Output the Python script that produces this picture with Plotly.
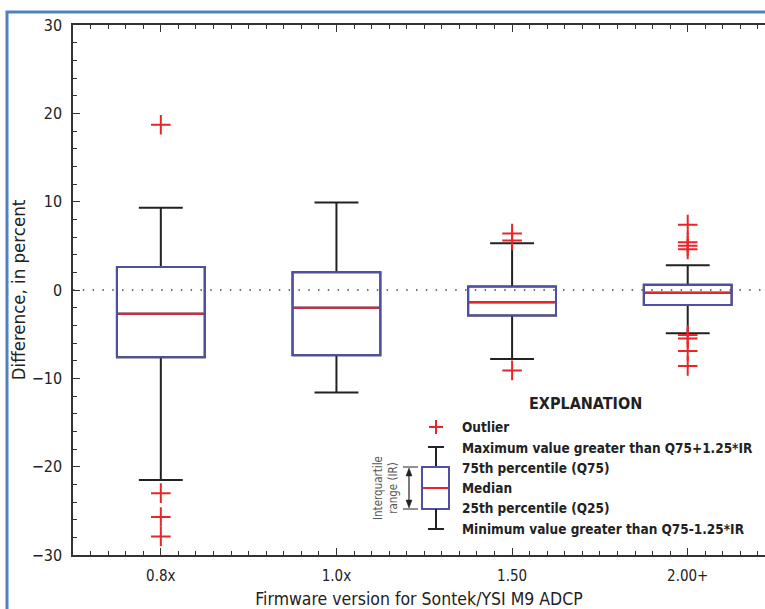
import plotly.graph_objects as go

# ---------------- data ----------------
categories = ["0.8x", "1.0x", "1.50", "2.00+"]
positions = [0, 1, 2, 3]
q1 = [-7.6, -7.4, -2.9, -1.7]
median = [-2.7, -2.0, -1.4, -0.3]
q3 = [2.6, 2.0, 0.4, 0.6]
lower_fence = [-21.5, -11.6, -7.8, -4.9]
upper_fence = [9.3, 9.9, 5.3, 2.8]

outliers_08x = [18.7, -23.0, -25.7, -27.9]
outliers_10x = []
outliers_150 = [6.4, 5.6, -9.1]
outliers_200 = [7.4, 5.4, 5.0, 4.6, -5.1, -5.5, -6.9, -8.6]
outlier_lists = [outliers_08x, outliers_10x, outliers_150, outliers_200]

y_ticks = [-30, -20, -10, 0, 10, 20, 30]

# ---------------- styles ----------------
FONT = "Liberation Sans Narrow, Arial Narrow, DejaVu Sans Condensed, sans-serif"
BLACK = "#222222"
BLUE = "#4f4fa3"
RED = "#e8262a"
BOX_W = 0.5

fig = go.Figure()

# whiskers (black)
fig.add_trace(go.Box(
    x=positions, q1=q1, median=median, q3=q3,
    lowerfence=lower_fence, upperfence=upper_fence,
    width=BOX_W, whiskerwidth=0.5, boxpoints=False,
    line=dict(color=BLACK, width=2), fillcolor="rgba(0,0,0,0)",
    showlegend=False, hoverinfo="skip"))
# box outline (blue)
fig.add_trace(go.Box(
    x=positions, q1=q1, median=median, q3=q3,
    lowerfence=q1, upperfence=q3,
    width=BOX_W, whiskerwidth=0, boxpoints=False,
    line=dict(color=BLUE, width=2), fillcolor="rgba(0,0,0,0)",
    showlegend=False, hoverinfo="skip"))
# medians (red)
mx, my = [], []
for p, m in zip(positions, median):
    mx += [p - BOX_W / 2 + 0.01, p + BOX_W / 2 - 0.01, None]
    my += [m, m, None]
fig.add_trace(go.Scatter(x=mx, y=my, mode="lines", line=dict(color=RED, width=2),
                         showlegend=False, hoverinfo="skip"))
# outliers
ox, oy = [], []
for p, lst in zip(positions, outlier_lists):
    ox += [p] * len(lst)
    oy += lst
fig.add_trace(go.Scatter(x=ox, y=oy, mode="markers",
                         marker=dict(symbol="cross-thin", size=14,
                                     line=dict(color=RED, width=2)),
                         showlegend=False))

# ---------------- layout ----------------
L, R, T, B = 73, 765, 25, 555
W, H = 765, 609


def px(x):
    return (x - L) / (R - L)


def py(y):
    return (B - y) / (B - T)


fig.add_hline(y=0, line=dict(color="#444444", width=1.5, dash="1.5px,8.3px"), layer="below")

shapes = []


def seg(x0, y0, x1, y1, color=BLACK, width=2):
    shapes.append(dict(type="line", xref="paper", yref="paper",
                       x0=px(x0), y0=py(y0), x1=px(x1), y1=py(y1),
                       line=dict(color=color, width=width)))


# legend glyph
seg(429, 427, 443, 427, RED)
seg(436, 420, 436, 434, RED)
seg(428, 447, 444, 447)
seg(436, 447, 436, 467)
shapes.append(dict(type="rect", xref="paper", yref="paper",
                   x0=px(422), y0=py(509), x1=px(449), y1=py(467),
                   line=dict(color=BLUE, width=2)))
seg(423, 488, 448, 488, RED)
seg(436, 509, 436, 529)
seg(428, 529, 444, 529)
# interquartile arrow
seg(403, 467, 418, 467, BLACK, 1)
seg(403, 509, 418, 509, BLACK, 1)
seg(409, 471, 409, 505, BLACK, 1.2)
for tip, base in [(468, 476), (508, 500)]:
    shapes.append(dict(type="path", xref="paper", yref="paper",
                       path=f"M {px(409)},{py(tip)} L {px(406)},{py(base)} L {px(412)},{py(base)} Z",
                       fillcolor=BLACK, line=dict(color=BLACK, width=0.5)))

# blue frame
shapes.append(dict(type="rect", xref="paper", yref="paper",
                   x0=px(7), y0=py(700), x1=px(900), y1=py(12),
                   line=dict(color="#4f81bd", width=3), layer="above"))

annotations = [
    dict(text="<b>EXPLANATION</b>", x=px(585), y=py(403), xref="paper", yref="paper",
         showarrow=False, xanchor="center", yanchor="middle",
         font=dict(family=FONT, size=16, color=BLACK)),
    dict(text="Interquartile<br>range (IR)", x=px(385), y=py(488), xref="paper", yref="paper",
         showarrow=False, textangle=-90, xanchor="center", yanchor="middle",
         font=dict(family=FONT, size=11.5, color="#555555")),
]
legend_rows = [
    ("Outlier", 427),
    ("Maximum value greater than Q75+1.25*IR", 448),
    ("75th percentile (Q75)", 468),
    ("Median", 488),
    ("25th percentile (Q25)", 508),
    ("Minimum value greater than Q75-1.25*IR", 529),
]
for txt, yy in legend_rows:
    annotations.append(dict(text=f"<b>{txt}</b>", x=px(460), y=py(yy), xref="paper", yref="paper",
                            showarrow=False, xanchor="left", yanchor="middle",
                            font=dict(family=FONT, size=13.5, color=BLACK)))

fig.update_layout(
    width=W, height=H,
    margin=dict(l=L, r=W - R, t=T, b=H - B, autoexpand=False),
    paper_bgcolor="white", plot_bgcolor="white",
    font=dict(family=FONT, size=15, color=BLACK),
    shapes=list(fig.layout.shapes) + shapes,
    annotations=annotations,
    boxmode="overlay",
    showlegend=False,
)
fig.update_xaxes(
    automargin=False,
    range=[-0.5, 3.44], tickvals=positions, ticktext=categories,
    showline=True, linecolor="#333333", linewidth=1.5, mirror="ticks",
    ticks="inside", ticklen=7, tickwidth=1.3, tickcolor="#333333",
    minor=dict(dtick=0.1, tick0=0, ticks="inside", ticklen=4, tickwidth=1, tickcolor="#333333"),
    showgrid=False, zeroline=False, ticklabelstandoff=6,
    tickfont=dict(family=FONT, size=15),
    title=dict(text="Firmware version for Sontek/YSI M9 ADCP", standoff=17,
               font=dict(family=FONT, size=17.5)),
)
fig.update_yaxes(
    automargin=False,
    range=[-30, 30], tickvals=y_ticks,
    showline=True, linecolor="#333333", linewidth=1.5, mirror=False,
    ticks="inside", ticklen=7, tickwidth=1.3, tickcolor="#333333",
    minor=dict(dtick=2, tick0=0, ticks="inside", ticklen=4, tickwidth=1, tickcolor="#333333"),
    showgrid=False, zeroline=False, ticklabelstandoff=6,
    tickfont=dict(family=FONT, size=16),
    title=dict(text="Difference, in percent", standoff=1,
               font=dict(family=FONT, size=18.5)),
)

fig.write_html(
    "out.html",
    config={"displayModeBar": False},
    post_script="document.body.style.margin='0';document.body.style.overflow='hidden';",
)
